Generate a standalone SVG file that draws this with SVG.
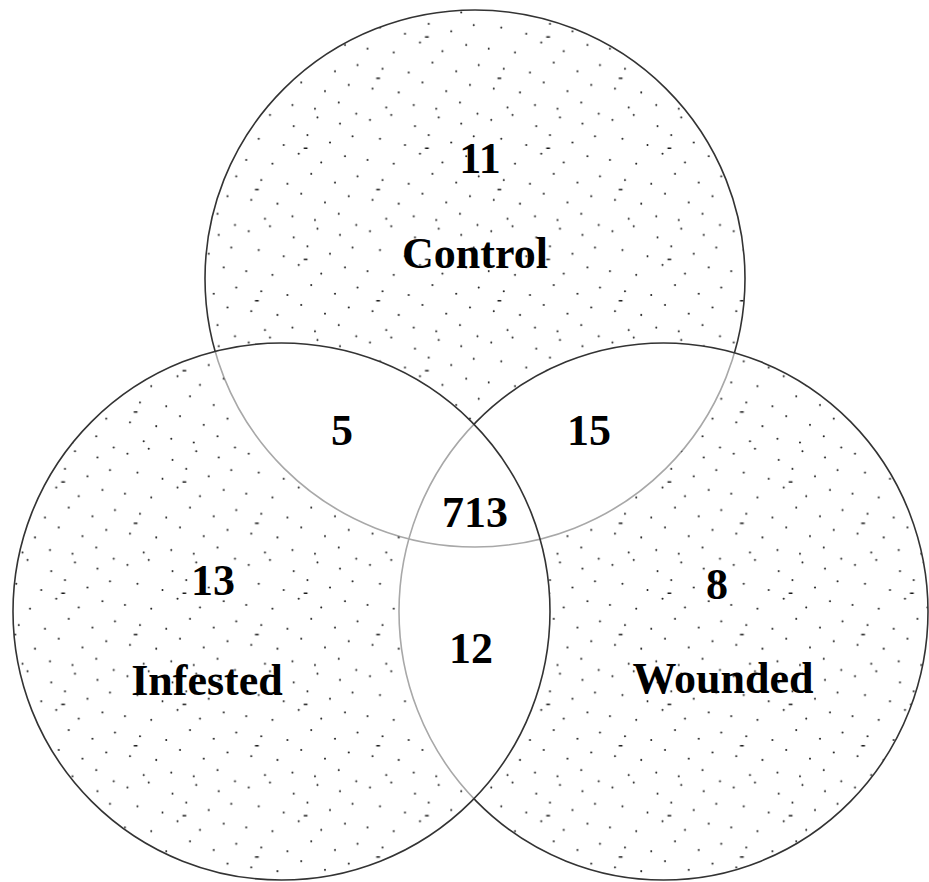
<svg xmlns="http://www.w3.org/2000/svg" width="929" height="882" viewBox="0 0 929 882">
<style>
.lbl{font-family:"Liberation Serif","Times New Roman",serif;font-weight:bold;font-size:44px;fill:#000;text-anchor:middle}
.dk{fill:none;stroke:#333;stroke-width:1.6}
.lt{fill:none;stroke:#a8a8a8;stroke-width:1.6}
</style>
<defs>
<pattern id="dots" patternUnits="userSpaceOnUse" width="97" height="89" patternTransform="scale(1.25)">
<g fill="#1a1a1a">
<circle cx="5" cy="7" r="0.8"/><circle cx="22" cy="3" r="0.8"/><circle cx="41" cy="12" r="0.8"/><circle cx="60" cy="5" r="0.8"/><circle cx="78" cy="10" r="0.8"/><circle cx="91" cy="2" r="0.8"/>
<circle cx="13" cy="22" r="0.8"/><circle cx="33" cy="27" r="0.8"/><circle cx="52" cy="19" r="0.8"/><circle cx="70" cy="25" r="0.8"/><circle cx="88" cy="20" r="0.8"/>
<circle cx="3" cy="39" r="0.8"/><circle cx="24" cy="42" r="0.8"/><circle cx="45" cy="34" r="0.8"/><circle cx="63" cy="41" r="0.8"/><circle cx="82" cy="36" r="0.8"/>
<circle cx="15" cy="55" r="0.8"/><circle cx="36" cy="58" r="0.8"/><circle cx="55" cy="50" r="0.8"/><circle cx="74" cy="57" r="0.8"/><circle cx="92" cy="52" r="0.8"/>
<circle cx="7" cy="71" r="0.8"/><circle cx="28" cy="74" r="0.8"/><circle cx="47" cy="66" r="0.8"/><circle cx="66" cy="73" r="0.8"/><circle cx="85" cy="68" r="0.8"/>
<circle cx="18" cy="86" r="0.8"/><circle cx="40" cy="84" r="0.8"/><circle cx="58" cy="87" r="0.8"/><circle cx="77" cy="82" r="0.8"/>
<rect x="49" y="29" width="3" height="1.2"/><rect x="10" y="62" width="3" height="1.2"/>
</g>
</pattern>
<ellipse id="eC" cx="475" cy="278.5" rx="270" ry="268.5"/>
<ellipse id="eI" cx="281.5" cy="611.5" rx="268.5" ry="268.5"/>
<ellipse id="eW" cx="663.5" cy="611.5" rx="264.5" ry="268.5"/>
<mask id="mC" maskUnits="userSpaceOnUse" x="0" y="0" width="929" height="882"><rect width="929" height="882" fill="#fff"/><use href="#eI" fill="#000"/><use href="#eW" fill="#000"/></mask>
<mask id="mI" maskUnits="userSpaceOnUse" x="0" y="0" width="929" height="882"><rect width="929" height="882" fill="#fff"/><use href="#eC" fill="#000"/><use href="#eW" fill="#000"/></mask>
<mask id="mW" maskUnits="userSpaceOnUse" x="0" y="0" width="929" height="882"><rect width="929" height="882" fill="#fff"/><use href="#eC" fill="#000"/><use href="#eI" fill="#000"/></mask>
<mask id="mNotI" maskUnits="userSpaceOnUse" x="0" y="0" width="929" height="882"><rect width="929" height="882" fill="#fff"/><use href="#eI" fill="#000"/></mask>
<clipPath id="cIW"><use href="#eI"/><use href="#eW"/></clipPath>
<clipPath id="cI"><use href="#eI"/></clipPath>
</defs>
<rect width="929" height="882" fill="#fff"/>
<g id="control">
<use href="#eC" fill="url(#dots)" mask="url(#mC)"/>
<use href="#eC" class="dk" mask="url(#mC)"/>
<use href="#eC" class="lt" clip-path="url(#cIW)"/>
<text class="lbl" x="480" y="173">11</text>
<text class="lbl" x="475" y="268">Control</text>
</g>
<g id="wounded">
<use href="#eW" fill="url(#dots)" mask="url(#mW)"/>
<use href="#eW" class="dk" mask="url(#mNotI)"/>
<use href="#eW" class="lt" clip-path="url(#cI)"/>
<text class="lbl" x="717" y="599">8</text>
<text class="lbl" x="723" y="693">Wounded</text>
</g>
<g id="infested">
<use href="#eI" fill="url(#dots)" mask="url(#mI)"/>
<use href="#eI" class="dk"/>
<text class="lbl" x="213" y="595">13</text>
<text class="lbl" x="207" y="695">Infested</text>
</g>
<g id="intersections">
<text class="lbl" x="342" y="445">5</text>
<text class="lbl" x="589" y="445">15</text>
<text class="lbl" x="475" y="527">713</text>
<text class="lbl" x="471" y="663">12</text>
</g>
</svg>
